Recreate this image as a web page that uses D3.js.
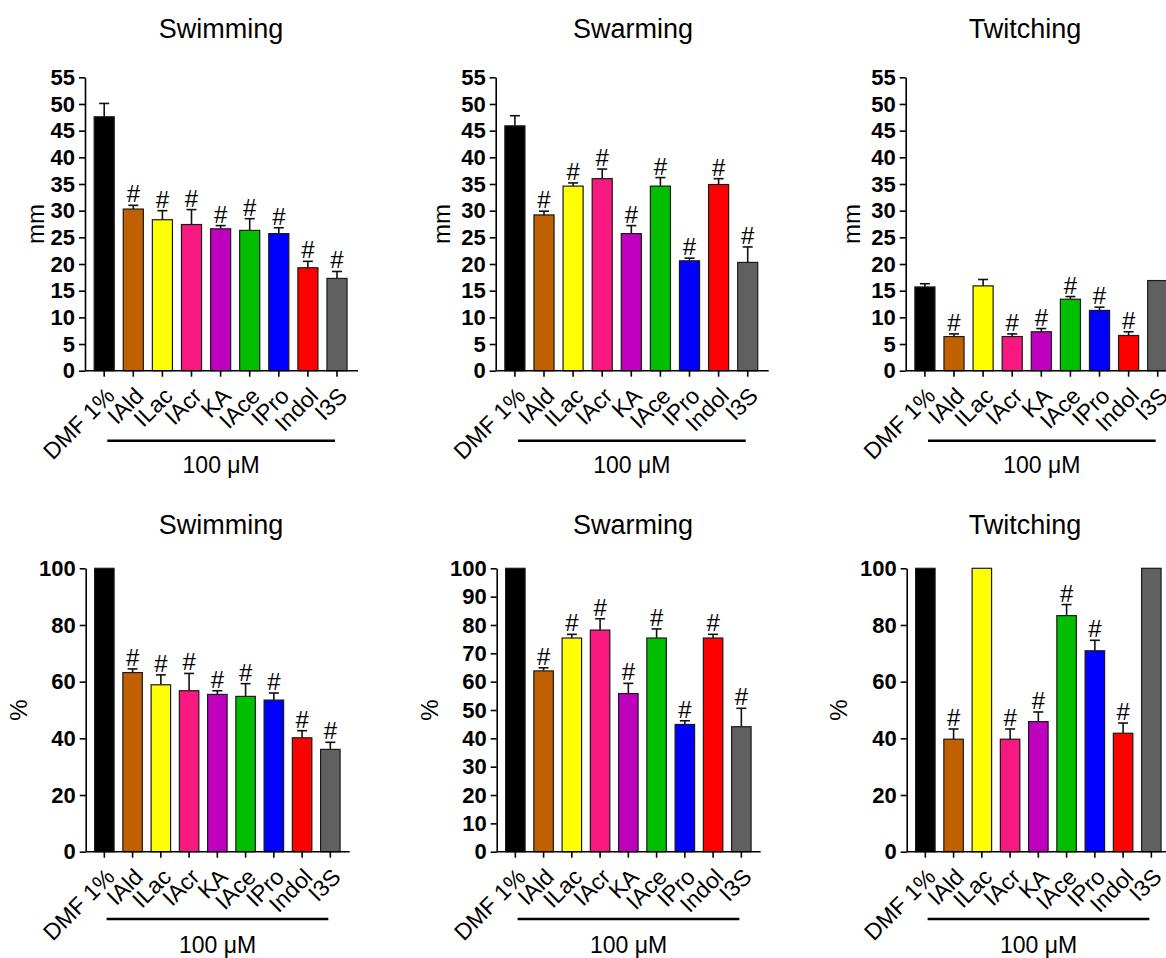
<!DOCTYPE html>
<html>
<head>
<meta charset="utf-8">
<script src="https://cdn.jsdelivr.net/npm/d3@7"></script>
<style>
  html, body { margin: 0; padding: 0; background: #fff; }
  svg { display: block; font-family: "Liberation Sans", Arial, Helvetica, sans-serif; }
</style>
</head>
<body>
<svg id="chart" width="1166" height="958"></svg>
<script>
// Treatment groups (x axis) and their bar colours
const categories = ["DMF 1%", "IAld", "ILac", "IAcr", "KA", "IAce", "IPro", "Indol", "I3S"];
const barColors = ["#000000", "#C06000", "#FFFF00", "#F7197F", "#BF00BF", "#00BF00", "#0000FF", "#FF0000", "#606060"];

// Motility in mm (mean and upper SEM)
const swimmingMm = [47.6, 30.3, 28.3, 27.4, 26.6, 26.3, 25.7, 19.3, 17.3];
const swimmingMmErr = [2.5, 0.7, 1.7, 2.8, 0.6, 2.2, 1.1, 1.2, 1.3];
const swarmingMm = [45.9, 29.2, 34.6, 36.0, 25.7, 34.6, 20.6, 34.9, 20.3];
const swarmingMmErr = [1.9, 0.7, 0.6, 1.8, 1.5, 1.6, 0.5, 1.1, 2.9];
const twitchingMm = [15.7, 6.4, 15.9, 6.4, 7.3, 13.4, 11.3, 6.6, 16.9];
const twitchingMmErr = [0.6, 0.5, 1.2, 0.5, 0.6, 0.5, 0.6, 0.7, 0];

// Motility relative to DMF 1% control (%)
const swimmingPct = [100, 63.2, 58.9, 56.8, 55.5, 54.8, 53.5, 40.2, 36.1];
const swimmingPctErr = [0, 1.3, 3.5, 6.1, 1.3, 4.5, 2.5, 2.5, 2.5];
const swarmingPct = [100, 63.8, 75.4, 78.2, 55.8, 75.4, 44.9, 75.4, 44.1];
const swarmingPctErr = [0, 1.1, 1.3, 4.0, 3.6, 3.2, 1.3, 1.3, 6.5];
const twitchingPct = [100, 39.7, 100, 39.7, 45.9, 83.3, 70.9, 41.8, 100];
const twitchingPctErr = [0, 3.6, 0, 3.6, 3.4, 3.9, 3.7, 3.6, 0];

// Significance versus control (#)
const swimmingSig = [0, 1, 1, 1, 1, 1, 1, 1, 1];
const swarmingSig = [0, 1, 1, 1, 1, 1, 1, 1, 1];
const twitchingSig = [0, 1, 0, 1, 1, 1, 1, 1, 0];

// Axis tick values
const mmTicks = [0, 5, 10, 15, 20, 25, 30, 35, 40, 45, 50, 55];
const pctTicks20 = [0, 20, 40, 60, 80, 100];
const pctTicks10 = [0, 10, 20, 30, 40, 50, 60, 70, 80, 90, 100];

const titles = ["Swimming", "Swarming", "Twitching"];
const groupLabel = "100 \u03BCM";

const svg = d3.select("#chart");

// Row geometry
const rows = [
  { yTop: 77.3, yZero: 370.7, step: 29.1, axisLen: 273, titleY: 38, lineY: 440.7, noteY: 473, unit: "mm",
    x0: [85, 495.7, 905.7], labelX: [36, 442, 852] },
  { yTop: 568.3, yZero: 851.7, step: 28.25, axisLen: 264, titleY: 534, lineY: 919, noteY: 953, unit: "%",
    x0: [85.7, 496.7, 906.7], labelX: [18.5, 430, 839] }
];
const titleX = [221, 633, 1025];

const panels = [
  { row: 0, col: 0, values: swimmingMm, errs: swimmingMmErr, sig: swimmingSig, max: 55, ticks: mmTicks },
  { row: 0, col: 1, values: swarmingMm, errs: swarmingMmErr, sig: swarmingSig, max: 55, ticks: mmTicks },
  { row: 0, col: 2, values: twitchingMm, errs: twitchingMmErr, sig: twitchingSig, max: 55, ticks: mmTicks },
  { row: 1, col: 0, values: swimmingPct, errs: swimmingPctErr, sig: swimmingSig, max: 100, ticks: pctTicks20 },
  { row: 1, col: 1, values: swarmingPct, errs: swarmingPctErr, sig: swarmingSig, max: 100, ticks: pctTicks10 },
  { row: 1, col: 2, values: twitchingPct, errs: twitchingPctErr, sig: twitchingSig, max: 100, ticks: pctTicks20 }
];

panels.forEach(p => {
  const r = rows[p.row];
  const x0 = r.x0[p.col];
  const g = svg.append("g");

  const bandStart = x0 + r.step * 0.16;
  const x = d3.scaleBand()
    .domain(categories)
    .range([bandStart, bandStart + r.step * categories.length])
    .paddingInner(0.31)
    .paddingOuter(0.155);
  const y = d3.scaleLinear().domain([0, p.max]).range([r.yZero, r.yTop]);

  const data = categories.map((c, i) => ({ c, v: p.values[i], e: p.errs[i], s: p.sig[i], color: barColors[i] }));

  // Error bars (upper arm only)
  const capW = 10;
  const eb = g.append("g").attr("stroke", "#111").attr("stroke-width", 1.6).attr("fill", "none");
  data.filter(d => d.e > 0).forEach(d => {
    const cx = x(d.c) + x.bandwidth() / 2;
    eb.append("line").attr("x1", cx).attr("x2", cx).attr("y1", y(d.v)).attr("y2", y(d.v + d.e));
    eb.append("line").attr("x1", cx - capW / 2).attr("x2", cx + capW / 2)
      .attr("y1", y(d.v + d.e)).attr("y2", y(d.v + d.e));
  });

  // Bars
  g.append("g").selectAll("rect").data(data).join("rect")
    .attr("x", d => x(d.c))
    .attr("y", d => y(d.v))
    .attr("width", x.bandwidth())
    .attr("height", d => y(0) - y(d.v))
    .attr("fill", d => d.color)
    .attr("stroke", "#1a1a1a")
    .attr("stroke-width", 1.2);

  // Significance marks
  g.append("g").selectAll("text").data(data.filter(d => d.s)).join("text")
    .attr("x", d => x(d.c) + x.bandwidth() / 2)
    .attr("y", d => y(d.v + d.e) - 3)
    .attr("text-anchor", "middle")
    .attr("font-size", 24)
    .attr("fill", "#000")
    .text("#");

  // Y axis
  const yAxis = d3.axisLeft(y).tickValues(p.ticks).tickSize(6).tickSizeOuter(0).tickPadding(4);
  const ya = g.append("g").attr("transform", `translate(${x0},0)`).call(yAxis);
  ya.select(".domain").attr("stroke", "#000").attr("stroke-width", 1.6);
  ya.selectAll(".tick line").attr("stroke", "#000").attr("stroke-width", 1.6);
  ya.selectAll(".tick text")
    .attr("font-family", "Liberation Sans, Arial, sans-serif")
    .attr("font-size", 22).attr("font-weight", "bold").attr("fill", "#000");

  // X axis
  const xAxis = d3.axisBottom(x).tickSize(6).tickSizeOuter(0).tickFormat("");
  const xa = g.append("g").attr("transform", `translate(0,${r.yZero})`).call(xAxis);
  xa.select(".domain").remove();
  xa.selectAll(".tick line").attr("stroke", "#000").attr("stroke-width", 1.6);
  g.append("line")
    .attr("x1", x0).attr("x2", x0 + r.axisLen)
    .attr("y1", r.yZero).attr("y2", r.yZero)
    .attr("stroke", "#000").attr("stroke-width", 1.6);

  // Rotated category labels
  g.append("g").selectAll("text").data(categories).join("text")
    .attr("transform", c => `translate(${x(c) + x.bandwidth() / 2 + 6},${r.yZero + 21}) rotate(-45)`)
    .attr("text-anchor", "end")
    .attr("dy", "0.35em")
    .attr("font-size", 23)
    .attr("fill", "#000")
    .text(c => c);

  // Treatment group bracket and note
  const cx1 = x(categories[1]) + x.bandwidth() / 2 - 26;
  const cx2 = x(categories[categories.length - 1]) + x.bandwidth() / 2 - 2;
  g.append("line")
    .attr("x1", cx1).attr("x2", cx2).attr("y1", r.lineY).attr("y2", r.lineY)
    .attr("stroke", "#000").attr("stroke-width", 2.6);
  g.append("text")
    .attr("x", (cx1 + cx2) / 2).attr("y", r.noteY)
    .attr("text-anchor", "middle").attr("font-size", 23).attr("fill", "#000")
    .text(groupLabel);

  // Y axis title
  g.append("text")
    .attr("transform", `translate(${r.labelX[p.col]},${(r.yTop + r.yZero) / 2}) rotate(-90)`)
    .attr("text-anchor", "middle").attr("dy", "0.35em")
    .attr("font-size", 24).attr("fill", "#000")
    .text(r.unit);

  // Panel title
  g.append("text")
    .attr("x", titleX[p.col]).attr("y", r.titleY)
    .attr("text-anchor", "middle").attr("font-size", 27).attr("fill", "#000")
    .text(titles[p.col]);
});
</script>
</body>
</html>
